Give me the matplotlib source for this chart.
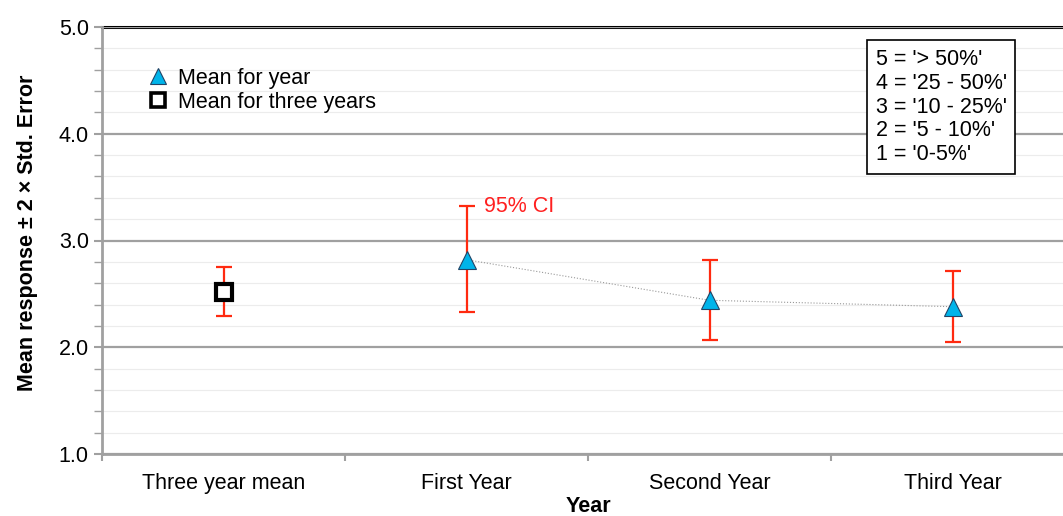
import numpy as np
import matplotlib.pyplot as plt
from matplotlib.ticker import MultipleLocator

categories = ["Three year mean", "First Year", "Second Year", "Third Year"]
means = [2.52, 2.82, 2.44, 2.38]
upper = [2.75, 3.32, 2.82, 2.71]
lower = [2.29, 2.33, 2.07, 2.05]
scale_text = ["5 = '> 50%'", "4 = '25 - 50%'", "3 = '10 - 25%'", "2 = '5 - 10%'", "1 = '0-5%'"]

plt.rcParams['font.family'] = ['Liberation Sans', 'DejaVu Sans']
fs = 15.5

fig = plt.figure(figsize=(10.63, 5.16), dpi=100)
ax = fig.add_axes([102/1063, 1 - 454/516, 972/1063, 427/516])

x = np.arange(len(categories))
m = np.array(means)
err = [m - np.array(lower), np.array(upper) - m]

ax.set_xlim(-0.5, 3.5)
ax.set_ylim(1.0, 5.0)

# gridlines
ax.yaxis.set_major_locator(MultipleLocator(1.0))
ax.yaxis.set_minor_locator(MultipleLocator(0.2))
ax.grid(axis='y', which='major', color='#a0a0a0', linewidth=1.6, zorder=0)
ax.grid(axis='y', which='minor', color='#ececec', linewidth=0.8, zorder=0)
ax.axhline(5.0, color='black', linewidth=2.2, zorder=1, clip_on=False)

ax.errorbar(x, m, yerr=err, fmt='none', ecolor='#ff2a10', elinewidth=1.6,
            capsize=5.8, capthick=1.6, zorder=3)
ax.plot(x[1:], m[1:], linestyle=':', color='#999999', linewidth=0.8, zorder=2)
ax.plot(x[1:], m[1:], linestyle='none', marker='^', markersize=13,
        markerfacecolor='#00b4ea', markeredgecolor='#224466', markeredgewidth=0.8,
        zorder=4, label='Mean for year')
ax.plot(x[:1], m[:1], linestyle='none', marker='s', markersize=12,
        markerfacecolor='white', markeredgecolor='black', markeredgewidth=3,
        zorder=4, label='Mean for three years')

ax.text(1.07, 3.32, '95% CI', color='#ff2020', fontsize=fs, va='center', ha='left')

ax.text(0.796, 0.949, "\n".join(scale_text), transform=ax.transAxes, fontsize=fs,
        va='top', ha='left', linespacing=1.18,
        bbox=dict(boxstyle='square,pad=0.4', facecolor='white', edgecolor='black', linewidth=1.2))

leg = ax.legend(loc='upper left', bbox_to_anchor=(0.029, 0.94), frameon=False,
                fontsize=fs, handletextpad=0.3, labelspacing=0.15, handlelength=1.2,
                borderpad=0.2)
leg.legend_handles[0].set_markersize(11)
leg.legend_handles[1].set_markersize(10)
leg.legend_handles[1].set_markeredgewidth(2.6)

ax.set_xticks(x)
ax.set_xticklabels(categories, fontsize=fs)
ax.set_xticks(np.arange(-0.5, 4.0, 1.0), minor=True)
ax.tick_params(axis='x', which='major', length=0, pad=14)
ax.tick_params(axis='x', which='minor', length=5, color='#a0a0a0', width=1.5)
ax.tick_params(axis='y', which='major', length=6, color='#a0a0a0', width=1.5, labelsize=fs)
ax.tick_params(axis='y', which='minor', length=6, color='#a0a0a0', width=1.0)
ax.yaxis.set_major_formatter(plt.FormatStrFormatter('%.1f'))

for s in ['top', 'right']:
    ax.spines[s].set_visible(False)
ax.spines['left'].set_color('#a0a0a0')
ax.spines['left'].set_linewidth(2)
ax.spines['bottom'].set_color('#a0a0a0')
ax.spines['bottom'].set_linewidth(2)

ax.set_xlabel('Year', fontsize=fs, fontweight='bold', labelpad=1)
ax.set_ylabel('Mean response ± 2 × Std. Error', fontsize=fs, fontweight='bold', labelpad=10)
ax.yaxis.set_label_coords(-0.066, 0.517)

fig.savefig('out.png', dpi=100)
